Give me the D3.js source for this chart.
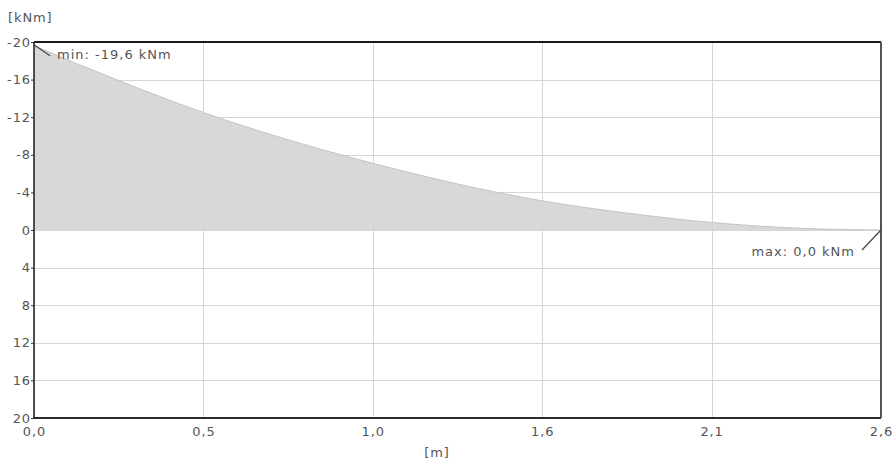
<!DOCTYPE html>
<html>
<head>
<meta charset="utf-8">
<script src="https://cdn.jsdelivr.net/npm/d3@7"></script>
<style>
  html, body { margin: 0; padding: 0; background: #fff; }
  svg { display: block; }
  text { font-family: "DejaVu Sans", Verdana, sans-serif; }
</style>
</head>
<body>
<svg id="chart" width="895" height="464"></svg>
<script>
// Bending moment along the beam [m] -> [kNm]
const positions = [0, 0.26, 0.52, 0.78, 1.04, 1.30, 1.56, 1.82, 2.08, 2.34, 2.60];
const moments   = [-19.6, -15.9, -12.5, -9.6, -7.1, -4.9, -3.1, -1.8, -0.8, -0.2, 0.0];
const xTicks = [0, 0.52, 1.04, 1.56, 2.08, 2.60];
const yTicks = [-20, -16, -12, -8, -4, 0, 4, 8, 12, 16, 20];
const minLabel = "min: -19,6 kNm";
const maxLabel = "max: 0,0 kNm";

const svg = d3.select("#chart");
const plotL = 34, plotR = 881, plotT = 42, plotB = 418;

const x = d3.scaleLinear().domain([0, 2.6]).range([plotL, plotR]);
const y = d3.scaleLinear().domain([-20, 20]).range([plotT, plotB]);

const fmt = v => d3.format(".1f")(v).replace(".", ",");
const labelFont = "13px";
const labelSpacing = "0.9px";

// grid
const grid = svg.append("g");
grid.selectAll("line.h").data(yTicks).join("line")
  .attr("x1", plotL).attr("x2", plotR)
  .attr("y1", d => Math.round(y(d)) + 0.5).attr("y2", d => Math.round(y(d)) + 0.5)
  .attr("stroke", "#d6d6d6").attr("stroke-width", 1);
grid.selectAll("line.v").data(xTicks).join("line")
  .attr("y1", plotT).attr("y2", plotB)
  .attr("x1", d => Math.round(x(d)) + 0.5).attr("x2", d => Math.round(x(d)) + 0.5)
  .attr("stroke", "#d6d6d6").attr("stroke-width", 1);

// moment diagram
const pts = positions.map((p, i) => [p, moments[i]]);
const area = d3.area()
  .x(d => x(d[0])).y0(y(0)).y1(d => y(d[1]))
  .curve(d3.curveMonotoneX);
svg.append("path").datum(pts)
  .attr("d", area)
  .attr("fill", "#d4d4d4").attr("fill-opacity", 0.9);
svg.append("path").datum(pts)
  .attr("d", d3.line().x(d => x(d[0])).y(d => y(d[1])).curve(d3.curveMonotoneX))
  .attr("fill", "none").attr("stroke", "#c4c4c4").attr("stroke-width", 1);

// frame
svg.append("line").attr("x1", plotL).attr("x2", plotR).attr("y1", plotT).attr("y2", plotT)
  .attr("stroke", "#1a1a1a").attr("stroke-width", 2);
svg.append("line").attr("x1", plotL).attr("x2", plotR).attr("y1", plotB).attr("y2", plotB)
  .attr("stroke", "#2a2a2a").attr("stroke-width", 2);
svg.append("line").attr("x1", plotL).attr("x2", plotL).attr("y1", plotT).attr("y2", plotB)
  .attr("stroke", "#1a1a1a").attr("stroke-width", 1.5);
svg.append("line").attr("x1", plotR).attr("x2", plotR).attr("y1", plotT).attr("y2", plotB)
  .attr("stroke", "#555").attr("stroke-width", 2);

// axes
const yAxis = d3.axisLeft(y).tickValues(yTicks).tickSize(3).tickFormat(d => d);
const gy = svg.append("g").attr("transform", `translate(${plotL},0)`).call(yAxis);
gy.select(".domain").remove();
gy.selectAll(".tick line").attr("stroke", "#333");
gy.selectAll(".tick text").attr("x", -3).attr("fill", "#555")
  .style("font-size", labelFont).style("letter-spacing", labelSpacing)
  .style("font-family", "'DejaVu Sans', sans-serif");

const xAxis = d3.axisBottom(x).tickValues(xTicks).tickSize(0).tickFormat(fmt);
const gx = svg.append("g").attr("transform", `translate(0,${plotB})`).call(xAxis);
gx.select(".domain").remove();
gx.selectAll(".tick text").attr("y", 9).attr("fill", "#555")
  .style("font-size", labelFont).style("letter-spacing", labelSpacing)
  .style("font-family", "'DejaVu Sans', sans-serif");

// unit labels
svg.append("text").attr("x", 8).attr("y", 22).attr("fill", "#555")
  .style("font-size", labelFont).style("letter-spacing", labelSpacing).text("[kNm]");
svg.append("text").attr("x", 437).attr("y", 457).attr("text-anchor", "middle").attr("fill", "#555")
  .style("font-size", labelFont).style("letter-spacing", labelSpacing).text("[m]");

// extreme value annotations
const iMin = moments.indexOf(d3.min(moments));
const iMax = moments.length - 1;
svg.append("line")
  .attr("x1", x(positions[iMin])).attr("y1", y(moments[iMin]) - 1)
  .attr("x2", x(positions[iMin]) + 16).attr("y2", y(moments[iMin]) + 10)
  .attr("stroke", "#444").attr("stroke-width", 1.2);
svg.append("text").attr("x", 57).attr("y", 59).attr("fill", "#555")
  .style("font-size", labelFont).style("letter-spacing", "1px").text(minLabel);

svg.append("line")
  .attr("x1", x(positions[iMax])).attr("y1", y(moments[iMax]))
  .attr("x2", x(positions[iMax]) - 19).attr("y2", y(moments[iMax]) + 20)
  .attr("stroke", "#444").attr("stroke-width", 1.2);
svg.append("text").attr("x", 855).attr("y", 256).attr("text-anchor", "end").attr("fill", "#555")
  .style("font-size", labelFont).style("letter-spacing", "1px").text(maxLabel);
</script>
</body>
</html>
